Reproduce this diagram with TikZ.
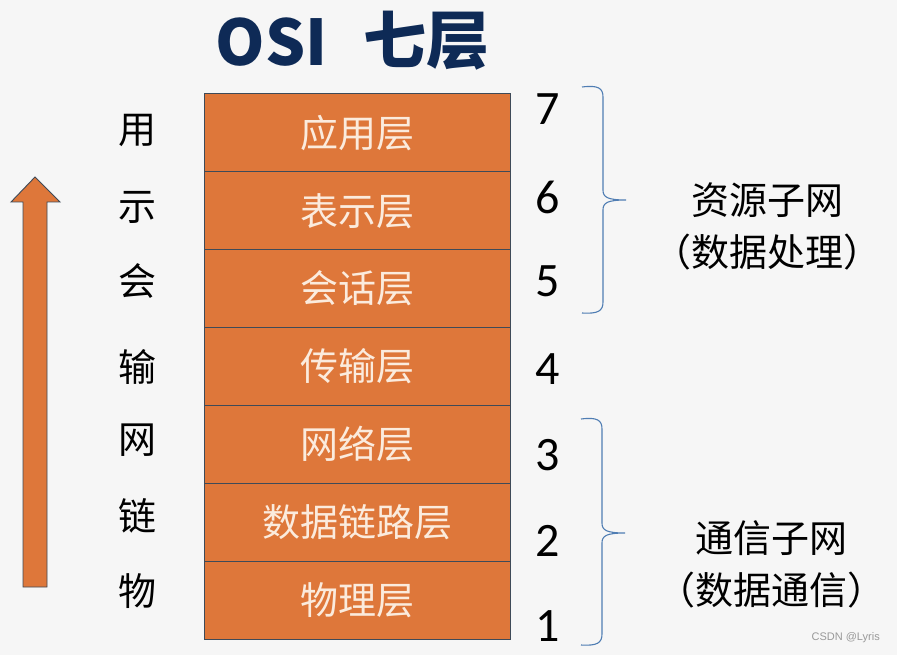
\documentclass[tikz,border=0pt]{standalone}
\usepackage{fontspec}
\newfontfamily\cjk{Noto Sans CJK SC}
\newfontfamily\numf{Carlito}
\newfontfamily\wmf{Liberation Sans}
\definecolor{bg}{HTML}{F6F6F6}
\definecolor{orng}{HTML}{DE773A}
\definecolor{edge}{HTML}{3E4A58}
\definecolor{cream}{HTML}{FBEBDD}
\definecolor{navy}{HTML}{0E2A56}
\definecolor{brace}{HTML}{4F7DB3}
\begin{document}
\begin{tikzpicture}[x=1pt,y=-1pt,
  layer/.style={draw=edge,line width=1pt,fill=orng,minimum width=306pt,minimum height=77.86pt,inner sep=0pt,
    text=cream,font=\cjk\fontsize{38}{44}\selectfont},
  side/.style={font=\cjk\fontsize{38}{44}\selectfont,text=black,inner sep=0pt},
  num/.style={font=\numf\fontsize{48}{54}\selectfont,text=black,inner sep=0pt},
  net/.style={font=\cjk\fontsize{38}{52}\selectfont,text=black,align=center,inner sep=0pt},
  bracepath/.style={draw=brace,line width=1.1pt}]
\fill[bg] (0,0) rectangle (897,655);
\useasboundingbox (0,0) rectangle (897,655);
% title
\node[font=\cjk\bfseries\fontsize{63}{70}\selectfont,text=navy,inner sep=0pt] (osi) at (271.5,42) {OSI};
\node[font=\cjk\bfseries\fontsize{63}{70}\selectfont,text=navy,inner sep=0pt] (qi) at (426,41) {七层};
% layers
\node[layer] (l7) at (357,132.93) {应用层};
\node[layer] (l6) at (357,210.79) {表示层};
\node[layer] (l5) at (357,288.64) {会话层};
\node[layer] (l4) at (357,366.50) {传输层};
\node[layer] (l3) at (357,444.36) {网络层};
\node[layer] (l2) at (357,522.21) {数据链路层};
\node[layer] (l1) at (357,600.07) {物理层};
% left abbreviations
\node[side] (s7) at (137,130) {用};
\node[side] (s6) at (137,207) {示};
\node[side] (s5) at (137,281) {会};
\node[side] (s4) at (137,367) {输};
\node[side] (s3) at (137,440) {网};
\node[side] (s2) at (137,516) {链};
\node[side] (s1) at (137,591) {物};
% arrow
\draw[edge,fill=orng,line width=0.9pt,line join=miter]
  (23,587) -- (47,587) -- (47,202) -- (60,202) -- (35,177) -- (11,202) -- (23,202) -- cycle;
% numbers
\node[num] (n7) at (548,109) {7};
\node[num] (n6) at (548,197) {6};
\node[num] (n5) at (548,281) {5};
\node[num] (n4) at (548,369) {4};
\node[num] (n3) at (548,455) {3};
\node[num] (n2) at (548,541) {2};
\node[num] (n1) at (548,626) {1};
% braces
\draw[bracepath] (582,87) .. controls (598,85) and (603,88) .. (603,97) -- (603,190)
  .. controls (603,197) and (607,200) .. (626,200)
  .. controls (607,200) and (603,203) .. (603,210) -- (603,302)
  .. controls (603,311) and (598,314) .. (582,313);
\draw[bracepath] (581,419) .. controls (597,417) and (602,420) .. (602,429) -- (602,523)
  .. controls (602,530) and (606,533) .. (625,533)
  .. controls (606,533) and (602,536) .. (602,543) -- (602,634)
  .. controls (602,643) and (597,646) .. (581,645);
% subnet labels
\node[net] (res) at (767,226) {资源子网\\（数据处理）};
\node[net] (com) at (771,564) {通信子网\\（数据通信）};
% watermark
\node[font=\wmf\fontsize{11}{13}\selectfont,text=gray!80,inner sep=0pt,anchor=east] (wm) at (880,638) {CSDN @Lyris};
\end{tikzpicture}
\end{document}
